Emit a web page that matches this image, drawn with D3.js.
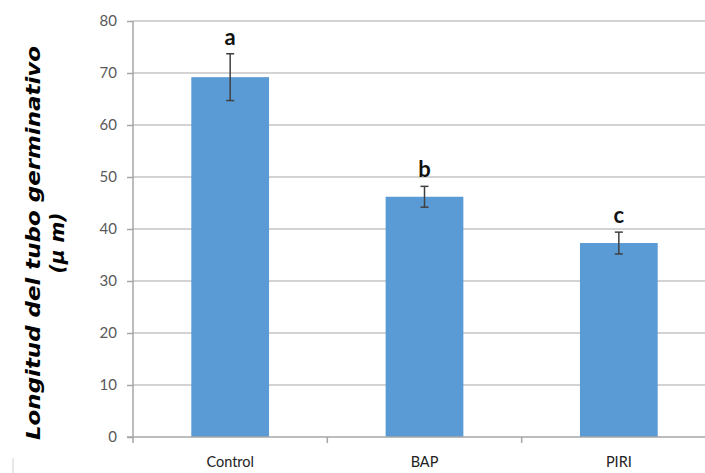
<!DOCTYPE html>
<html>
<head>
<meta charset="utf-8">
<script src="https://cdn.jsdelivr.net/npm/d3@7"></script>
<style>
  html, body { margin: 0; padding: 0; background: #fff; overflow: hidden; }
  svg { display: block; }
</style>
</head>
<body>
<script>
// Germ tube length by treatment (mean ± error)
const categories = ["Control", "BAP", "PIRI"];
const means = [69.2, 46.2, 37.3];
const errors = [4.5, 2.0, 2.1];
const letters = ["a", "b", "c"];
const yTicks = [0, 10, 20, 30, 40, 50, 60, 70, 80];

const W = 705, H = 473;
const svg = d3.select("body").append("svg").attr("width", W).attr("height", H);

const x = d3.scaleBand().domain(categories).range([133, 716]).paddingInner(0.6).paddingOuter(0.3);
const y = d3.scaleLinear().domain([0, 80]).range([437, 21]);

// horizontal gridlines
svg.append("g").selectAll("line").data(yTicks.filter(d => d > 0)).join("line")
  .attr("x1", 133).attr("x2", 716)
  .attr("y1", d => y(d)).attr("y2", d => y(d))
  .attr("stroke", "#c4c4c4").attr("stroke-width", 1.5);

// y axis
const yAxis = svg.append("g").attr("transform", "translate(133,0)")
  .call(d3.axisLeft(y).tickValues(yTicks).tickSize(6).tickPadding(10));
yAxis.select(".domain").attr("stroke", "#a6a6a6").attr("stroke-width", 1.5).attr("d", `M0,${y(80)}V${y(0)}`);
yAxis.selectAll(".tick line").attr("stroke", "#a6a6a6").attr("stroke-width", 1.5);
yAxis.selectAll(".tick text").attr("fill", "#595959").attr("font-family", "Lato, sans-serif").attr("font-size", 15);

// bars
svg.append("g").selectAll("rect").data(categories).join("rect")
  .attr("x", d => x(d)).attr("width", x.bandwidth())
  .attr("y", (d, i) => y(means[i])).attr("height", (d, i) => y(0) - y(means[i]))
  .attr("fill", "#5b9bd5");

// x axis
const xOuter = d3.scaleBand().domain(categories).range([133, 716]);
const xAxis = svg.append("g").attr("transform", `translate(0,${y(0)})`)
  .call(d3.axisBottom(xOuter).tickSize(0).tickPadding(20));
xAxis.select(".domain").attr("stroke", "#a6a6a6").attr("stroke-width", 1.5).attr("d", "M127,0H716");
xAxis.selectAll(".tick text").attr("fill", "#222").attr("font-family", "Lato, sans-serif").attr("font-size", 14.5);
// category separators
svg.append("g").selectAll("line").data(categories).join("line")
  .attr("x1", d => xOuter(d)).attr("x2", d => xOuter(d))
  .attr("y1", y(0)).attr("y2", y(0) + 6)
  .attr("stroke", "#a6a6a6").attr("stroke-width", 1.5);

// error bars
const eb = svg.append("g").attr("stroke", "#404040").attr("stroke-width", 1.5);
categories.forEach((c, i) => {
  const cx = x(c) + x.bandwidth() / 2;
  const top = y(means[i] + errors[i]), bot = y(means[i] - errors[i]);
  eb.append("line").attr("x1", cx).attr("x2", cx).attr("y1", top).attr("y2", bot);
  eb.append("line").attr("x1", cx - 4).attr("x2", cx + 4).attr("y1", top).attr("y2", top);
  eb.append("line").attr("x1", cx - 4).attr("x2", cx + 4).attr("y1", bot).attr("y2", bot);
});

// significance letters
svg.append("g").selectAll("text").data(categories).join("text")
  .attr("x", d => x(d) + x.bandwidth() / 2)
  .attr("y", (d, i) => y(means[i] + errors[i]) - 9)
  .attr("text-anchor", "middle")
  .attr("font-family", "Lato, sans-serif").attr("font-weight", "bold").attr("font-size", 22)
  .attr("fill", "#111")
  .text((d, i) => letters[i]);

// y axis title
const title = svg.append("text")
  .attr("transform", "translate(0,243) rotate(-90)")
  .attr("text-anchor", "middle")
  .attr("font-family", "DejaVu Sans, sans-serif").attr("font-weight", "bold").attr("font-style", "italic")
  .attr("font-size", 20).attr("fill", "#000");
title.append("tspan").attr("x", 0).attr("y", 40)
  .attr("textLength", 394).attr("lengthAdjust", "spacingAndGlyphs")
  .text("Longitud del tubo germinativo");
title.append("tspan").attr("x", 0).attr("y", 64).text("(μ m)");

// faint frame mark at lower left
svg.append("line").attr("x1", 13).attr("x2", 13).attr("y1", 458).attr("y2", 473)
  .attr("stroke", "#d0d0d0").attr("stroke-width", 1);
</script>
</body>
</html>
